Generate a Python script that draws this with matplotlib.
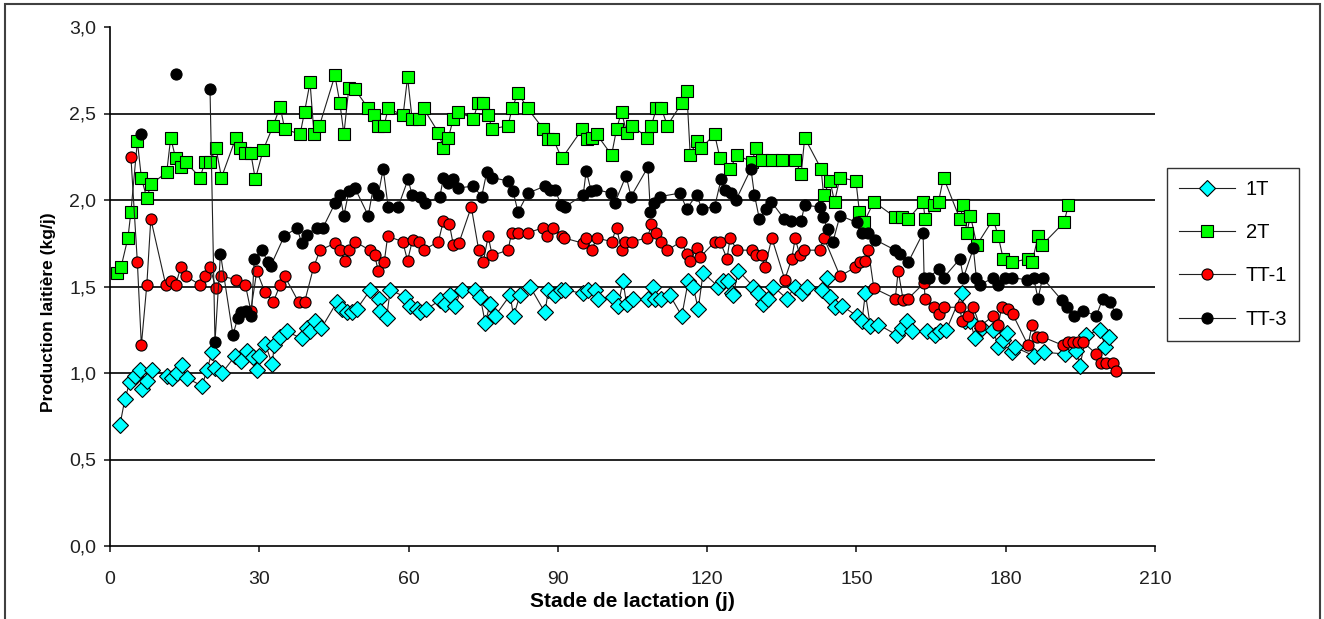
import numpy as np
import matplotlib.pyplot as plt
from matplotlib.patches import Rectangle
from matplotlib.ticker import FuncFormatter

plt.rcParams['font.family'] = ['Liberation Sans', 'DejaVu Sans']

# (jour, production kg/j)
serie_1t = [(2, 0.70), (3, 0.85), (4, 0.95), (5, 0.98), (6, 1.02), (6.5, 0.91), (7.5, 0.955), (8.5, 1.02),
            (11.5, 0.98), (12.5, 0.97), (13.5, 1.00), (14.5, 1.045), (15.5, 0.97), (18.5, 0.925), (19.5, 1.02),
            (20.5, 1.12), (21.2, 1.03), (22.5, 1.00), (25.2, 1.10), (26.4, 1.07), (27.6, 1.13), (28.8, 1.09),
            (29.6, 1.02), (30, 1.10), (31.2, 1.17), (32.6, 1.05), (33, 1.16), (34.2, 1.21), (35.5, 1.24),
            (38.5, 1.20), (39.5, 1.26), (40.2, 1.24), (41.2, 1.30), (42.5, 1.26), (45.6, 1.41), (46.6, 1.37),
            (47.6, 1.35), (48.6, 1.35), (49.6, 1.37), (52.3, 1.48), (54, 1.43), (54.3, 1.36), (55.6, 1.32),
            (56.3, 1.48), (59.3, 1.44), (60.3, 1.39), (61.6, 1.37), (62.3, 1.35), (63.6, 1.37), (66.3, 1.42),
            (67.3, 1.40), (68.3, 1.45), (69.3, 1.39), (70.7, 1.48), (73.4, 1.48), (74.4, 1.44), (75.4, 1.29),
            (76.4, 1.40), (77.4, 1.33), (80.4, 1.45), (81.1, 1.33), (82.4, 1.45), (84.4, 1.50), (87.4, 1.35),
            (88.1, 1.48), (89.4, 1.45), (90.7, 1.48), (91.4, 1.48), (95.1, 1.46), (96.1, 1.48), (97.4, 1.48),
            (98.1, 1.43), (101.1, 1.44), (102.1, 1.39), (103.1, 1.53), (103.8, 1.40), (105.1, 1.43), (108.2, 1.43),
            (109.2, 1.50), (109.5, 1.43), (110.8, 1.43), (112.5, 1.45), (114.9, 1.33), (116.2, 1.53), (117.2, 1.50),
            (118.2, 1.37), (119.2, 1.58), (122.2, 1.50), (123.2, 1.53), (124.2, 1.53), (124.9, 1.46), (125.2, 1.45),
            (126.3, 1.59), (129.3, 1.50), (130.3, 1.46), (131.3, 1.40), (132.3, 1.43), (133.3, 1.50), (136, 1.43),
            (137.7, 1.50), (139.1, 1.46), (140.1, 1.50), (143, 1.48), (144, 1.55), (144.7, 1.44), (145.7, 1.38),
            (147, 1.39), (150.1, 1.33), (151.1, 1.30), (151.8, 1.46), (152.8, 1.27), (154.4, 1.28), (158.1, 1.22),
            (159.1, 1.26), (160.1, 1.30), (161.1, 1.24), (164.1, 1.24), (165.8, 1.22), (166.8, 1.24), (168.1, 1.25),
            (171.2, 1.46), (171.9, 1.30), (172.9, 1.30), (173.8, 1.20), (175.2, 1.26), (177.5, 1.25), (178.5, 1.15),
            (179.5, 1.19), (180.2, 1.23), (181.2, 1.12), (181.8, 1.15), (185.6, 1.10), (187.6, 1.12), (191.9, 1.11),
            (194.2, 1.13), (194.9, 1.04), (196.2, 1.22), (199, 1.25), (200, 1.15), (200.7, 1.21)]

serie_2t = [(1.5, 1.58), (2.2, 1.61), (3.6, 1.78), (4.2, 1.93), (5.5, 2.34), (6.3, 2.13), (7.4, 2.01), (8.2, 2.09),
            (11.4, 2.16), (12.2, 2.36), (13.2, 2.24), (14.2, 2.19), (15.2, 2.22), (18.1, 2.13), (19.1, 2.22),
            (20.1, 2.22), (21.3, 2.30), (22.4, 2.13), (25.3, 2.36), (26.2, 2.30), (27.2, 2.27), (28.3, 2.27),
            (29.2, 2.12), (30.8, 2.29), (32.8, 2.43), (34.2, 2.54), (35.1, 2.41), (38.2, 2.38), (39.1, 2.51),
            (40.2, 2.68), (41, 2.38), (42.1, 2.43), (45.2, 2.72), (46.2, 2.56), (47, 2.38), (48, 2.65), (49.2, 2.64),
            (51.9, 2.53), (53.1, 2.49), (53.9, 2.43), (55.1, 2.43), (55.9, 2.53), (58.9, 2.49), (59.8, 2.71),
            (60.7, 2.47), (62, 2.47), (63, 2.53), (66, 2.39), (67, 2.30), (68, 2.36), (69, 2.47), (70, 2.51),
            (73, 2.47), (74, 2.56), (75, 2.56), (76, 2.49), (76.8, 2.41), (80, 2.43), (80.8, 2.53), (82, 2.62),
            (83.9, 2.53), (87.1, 2.41), (88.1, 2.35), (89.1, 2.35), (90.8, 2.24), (94.9, 2.41), (95.8, 2.35),
            (96.8, 2.36), (97.8, 2.38), (100.8, 2.26), (101.8, 2.41), (102.8, 2.51), (103.8, 2.39), (104.9, 2.43),
            (108, 2.36), (108.8, 2.43), (109.8, 2.53), (110.8, 2.53), (112, 2.43), (114.9, 2.56), (115.9, 2.63),
            (116.6, 2.26), (117.9, 2.34), (118.8, 2.30), (121.5, 2.38), (122.6, 2.24), (124.6, 2.18), (126, 2.26),
            (129, 2.22), (129.8, 2.30), (131, 2.23), (133, 2.23), (135, 2.23), (137.7, 2.23), (138.9, 2.15),
            (139.6, 2.36), (142.9, 2.18), (143.4, 2.03), (144.7, 2.11), (145.6, 1.99), (146.7, 2.13), (149.9, 2.11),
            (150.6, 1.93), (151.5, 1.87), (153.5, 1.99), (157.8, 1.90), (159.1, 1.90), (160.4, 1.89), (163.4, 1.99),
            (163.8, 1.89), (165.5, 1.97), (166.5, 1.99), (167.5, 2.13), (170.8, 1.89), (171.5, 1.97), (172.2, 1.81),
            (172.9, 1.91), (174.2, 1.74), (177.5, 1.89), (178.5, 1.79), (179.5, 1.66), (181.3, 1.64), (184.5, 1.66),
            (185.3, 1.64), (186.5, 1.79), (187.3, 1.74), (191.7, 1.87), (192.6, 1.97)]

serie_tt1 = [(4.2, 2.25), (5.5, 1.64), (6.3, 1.16), (7.4, 1.51), (8.2, 1.89), (11.2, 1.51), (12.2, 1.53), (13.2, 1.51),
             (14.2, 1.61), (15.2, 1.56), (18.1, 1.51), (19.1, 1.56), (20.1, 1.61), (21.3, 1.49), (22.4, 1.56),
             (25.3, 1.54), (27.2, 1.51), (28.3, 1.36), (29.5, 1.59), (31.1, 1.47), (32.8, 1.41), (34.2, 1.51),
             (35.1, 1.56), (37.9, 1.41), (39.1, 1.41), (40.9, 1.61), (42.2, 1.71), (45.2, 1.75), (46.2, 1.71),
             (47.2, 1.65), (48.1, 1.71), (49.2, 1.76), (52.2, 1.71), (53.2, 1.68), (53.9, 1.59), (55.1, 1.64),
             (55.8, 1.79), (58.8, 1.76), (59.8, 1.65), (60.8, 1.77), (62, 1.76), (63, 1.71), (66, 1.76), (67, 1.88),
             (68.2, 1.86), (69, 1.74), (70.1, 1.75), (72.6, 1.96), (74.1, 1.71), (75, 1.64), (76, 1.79), (76.8, 1.68),
             (80, 1.71), (80.7, 1.81), (82, 1.81), (83.9, 1.81), (87.1, 1.84), (87.9, 1.79), (89.1, 1.84),
             (90.8, 1.79), (91.3, 1.78), (95.1, 1.75), (95.7, 1.78), (96.8, 1.71), (97.8, 1.78), (100.8, 1.76),
             (101.8, 1.84), (102.8, 1.71), (103.4, 1.76), (104.8, 1.76), (108, 1.78), (108.8, 1.86), (109.8, 1.81),
             (110.8, 1.76), (112, 1.71), (114.8, 1.76), (115.9, 1.69), (116.6, 1.65), (117.9, 1.72), (118.6, 1.67),
             (121.6, 1.76), (122.6, 1.76), (124, 1.66), (124.6, 1.78), (126, 1.71), (129, 1.71), (129.8, 1.68),
             (131, 1.68), (131.6, 1.61), (133, 1.78), (135.6, 1.54), (137, 1.66), (137.7, 1.78), (138.6, 1.68),
             (139.5, 1.71), (142.6, 1.71), (143.5, 1.78), (146.7, 1.56), (149.7, 1.61), (150.7, 1.64), (151.7, 1.65),
             (152.4, 1.71), (153.5, 1.49), (157.8, 1.43), (158.4, 1.59), (159.4, 1.42), (160.4, 1.43), (163.6, 1.52),
             (163.8, 1.43), (165.5, 1.38), (166.5, 1.34), (167.5, 1.38), (170.8, 1.38), (171.2, 1.30), (172.5, 1.33),
             (173.5, 1.38), (174.8, 1.27), (177.5, 1.33), (178.5, 1.28), (179.2, 1.38), (180.5, 1.37), (181.4, 1.34),
             (184.5, 1.16), (185.3, 1.28), (186.3, 1.21), (187.3, 1.21), (191.5, 1.16), (192.5, 1.18), (193.5, 1.18),
             (194.5, 1.18), (195.5, 1.18), (198.2, 1.11), (199.2, 1.06), (200.2, 1.06), (201.5, 1.06), (202.2, 1.01)]

# None = point isolé (pas de liaison)
serie_tt3 = [(6.3, 2.38), None, (13.2, 2.73), None, (20.1, 2.64), (21.1, 1.18), (22.2, 1.69), (24.7, 1.22),
             (25.7, 1.32), (26.4, 1.35), (27.4, 1.36), (28.4, 1.33), (29, 1.66), (30.5, 1.71), (31.8, 1.64),
             (32.3, 1.62), (35, 1.79), (37.6, 1.84), (38.5, 1.75), (39.5, 1.80), (41.5, 1.84), (42.8, 1.84),
             (45.2, 1.98), (46.2, 2.03), (47, 1.91), (48, 2.05), (49.2, 2.07), (51.9, 1.91), (52.9, 2.07),
             (53.9, 2.03), (54.9, 2.18), (55.9, 1.96), (57.9, 1.96), (59.9, 2.12), (60.7, 2.03), (62.3, 2.02),
             (63.3, 1.98), (66.3, 2.02), (67, 2.13), (68, 2.10), (69, 2.12), (70, 2.07), (73, 2.08), (74.7, 2.02),
             (75.7, 2.16), (76.7, 2.13), (80, 2.11), (81, 2.05), (82, 1.93), (84, 2.04), (87.4, 2.08), (88.4, 2.06),
             (89.4, 2.06), (90.7, 1.97), (91.4, 1.96), (95.1, 2.03), (95.7, 2.17), (96.7, 2.05), (97.7, 2.06),
             (100.7, 2.04), (101.4, 1.98), (103.7, 2.14), (104.7, 2.02), (108.1, 2.19), (108.6, 1.93), (109.4, 1.98),
             (110.6, 2.02), (114.5, 2.04), (115.9, 1.95), (117.9, 2.03), (118.9, 1.95), (121.5, 1.96), (122.8, 2.12),
             (123.5, 2.06), (124.8, 2.04), (125.8, 2.00), (128.8, 2.18), (129.5, 2.03), (130.5, 1.89), (131.8, 1.95),
             (132.9, 1.99), (135.5, 1.89), (136.9, 1.88), (138.9, 1.88), (139.6, 1.97), (142.6, 1.96), (143.3, 1.90),
             (144.3, 1.83), (145.3, 1.76), (146.7, 1.91), (150.1, 1.87), (151.1, 1.81), (152.4, 1.81), (153.8, 1.77),
             (157.8, 1.71), (158.8, 1.69), (160.4, 1.64), (163.4, 1.81), (163.6, 1.55), (164.5, 1.55), (166.5, 1.60),
             (167.5, 1.55), (170.8, 1.66), (171.5, 1.55), (173.5, 1.72), (174.1, 1.55), (174.8, 1.51), (177.5, 1.55),
             (178.5, 1.51), (179.8, 1.55), (181.2, 1.55), (184.2, 1.54), (185.6, 1.55), (186.5, 1.43), (187.4, 1.55),
             (191.3, 1.42), (192.3, 1.38), (193.7, 1.33), (195.5, 1.36), (198.2, 1.33), (199.5, 1.43), (200.9, 1.41),
             (202.2, 1.34)]

labels = ['1T', '2T', 'TT-1', 'TT-3']
x_ticks = [0, 30, 60, 90, 120, 150, 180, 210]
y_ticks = [0.0, 0.5, 1.0, 1.5, 2.0, 2.5, 3.0]


def unpack(serie):
    xs = [p[0] if p else np.nan for p in serie]
    ys = [p[1] if p else np.nan for p in serie]
    return xs, ys


fig = plt.figure(figsize=(13.24, 6.19), dpi=100)
ax = fig.add_axes([110/1324, 73/619, 1045/1324, 519/619])

styles = [dict(marker='D', mfc='#00FFFF', ms=8),
          dict(marker='s', mfc='#00FF00', ms=8.5),
          dict(marker='o', mfc='#FF0000', ms=8),
          dict(marker='o', mfc='#000000', ms=8)]

for serie, lab, st in zip([serie_1t, serie_2t, serie_tt1, serie_tt3], labels, styles):
    xs, ys = unpack(serie)
    ax.plot(xs, ys, color='#202020', lw=0.8, mec='black', mew=0.8, label=lab, **st)

ax.set_xlim(0, 210)
ax.set_ylim(0, 3.0)
ax.set_xticks(x_ticks)
ax.set_yticks(y_ticks)
ax.yaxis.set_major_formatter(FuncFormatter(lambda v, p: f'{v:.1f}'.replace('.', ',')))
ax.tick_params(direction='out', length=4, width=1.2, labelsize=14, colors='#202020')
ax.tick_params(axis='x', pad=14)
ax.tick_params(axis='y', pad=6)

for y in y_ticks[1:-1]:
    ax.axhline(y, color='black', lw=1.2, zorder=0)

for s in ['top', 'right']:
    ax.spines[s].set_visible(False)
for s in ['left', 'bottom']:
    ax.spines[s].set_linewidth(1.2)

ax.set_xlabel('Stade de lactation (j)', fontsize=15, fontweight='bold', labelpad=3)
ax.set_ylabel('Production laitière (kg/j)', fontsize=12.5, fontweight='bold')
ax.yaxis.set_label_coords(-0.052, 0.45)

leg = fig.legend(loc='upper left', bbox_to_anchor=(1167/1324, 1 - 168/619), fontsize=14.5,
                 frameon=True, fancybox=False, edgecolor='black', handlelength=2.8,
                 labelspacing=1.2, borderpad=0.6, handletextpad=0.5, borderaxespad=0)
leg.get_frame().set_linewidth(1.0)

fig.patches.append(Rectangle((5/1324, -10/619), 1315/1324, 625/619, transform=fig.transFigure,
                             fill=False, edgecolor='#404040', lw=1.5))

fig.savefig('out.png', dpi=100)
